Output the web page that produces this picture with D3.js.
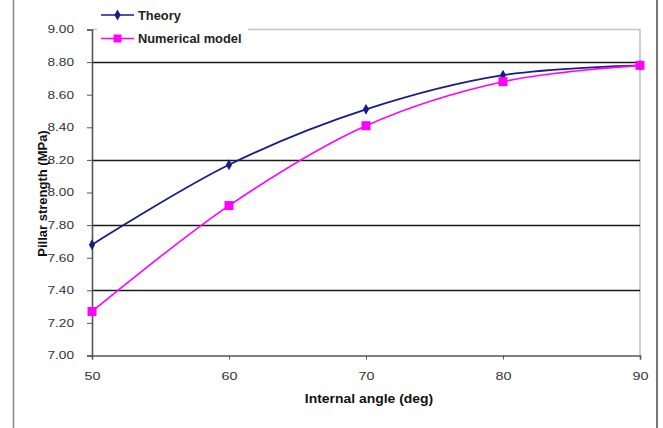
<!DOCTYPE html>
<html>
<head>
<meta charset="utf-8">
<script src="https://cdn.jsdelivr.net/npm/d3@7"></script>
<style>
  html, body { margin: 0; padding: 0; background: #fff; }
  svg { display: block; font-family: "Liberation Sans", Arial, sans-serif; }
</style>
</head>
<body>
<svg id="chart" width="663" height="428"></svg>
<script>
// Pillar strength versus internal angle
const angles = [50, 60, 70, 80, 90];
const theory = [7.68, 8.17, 8.51, 8.72, 8.78];
const numerical = [7.27, 7.92, 8.41, 8.68, 8.78];
const yTicks = [7.0, 7.2, 7.4, 7.6, 7.8, 8.0, 8.2, 8.4, 8.6, 8.8, 9.0];
const gridValues = [7.4, 7.8, 8.2, 8.8];
const seriesNames = ["Theory", "Numerical model"];

const svg = d3.select("#chart");
const W = 663, H = 428;
const plotLeft = 92, plotRight = 640, plotTop = 29.5, plotBottom = 355.5;
const navy = "#1a1a8c", magenta = "#ff00ff";

const x = d3.scaleLinear().domain([50, 90]).range([plotLeft, plotRight]);
const y = d3.scaleLinear().domain([7, 9]).range([plotBottom, plotTop]);

// widen text glyphs horizontally by factor k
function widen(sel, k) {
  sel.each(function () {
    const w = this.getComputedTextLength();
    this.setAttribute("textLength", w * k);
    this.setAttribute("lengthAdjust", "spacingAndGlyphs");
  });
}

// outer frame lines
svg.append("line").attr("x1", 13.5).attr("x2", 13.5).attr("y1", 0).attr("y2", H)
  .attr("stroke", "#888").attr("stroke-width", 1.5);
svg.append("line").attr("x1", 657).attr("x2", 657).attr("y1", 0).attr("y2", H)
  .attr("stroke", "#777").attr("stroke-width", 2);

// plot border (top and right)
svg.append("path")
  .attr("d", `M${plotLeft},${plotTop}H${plotRight}V${plotBottom}`)
  .attr("fill", "none").attr("stroke", "#c4c4c4").attr("stroke-width", 1.6);

// gridlines
svg.append("g").selectAll("line").data(gridValues).join("line")
  .attr("x1", plotLeft).attr("x2", plotRight)
  .attr("y1", d => Math.round(y(d)) + 0.5).attr("y2", d => Math.round(y(d)) + 0.5)
  .attr("stroke", "#1a1a1a").attr("stroke-width", 1.3);

// y axis
const yAxis = d3.axisLeft(y).tickValues(yTicks).tickFormat(d3.format(".2f")).tickSize(5).tickPadding(13);
const gy = svg.append("g").attr("transform", `translate(${plotLeft},0)`).call(yAxis);
gy.select(".domain").attr("stroke", "#555").attr("stroke-width", 1.6);
gy.selectAll(".tick line").attr("stroke", "#555");
gy.selectAll("text").attr("font-size", 10.5).attr("fill", "#333")
  .attr("font-family", "Liberation Sans, Arial, sans-serif").call(widen, 1.3);

// x axis
const xAxis = d3.axisBottom(x).tickValues(angles).tickFormat(d3.format("d")).tickSize(4).tickPadding(13);
const gx = svg.append("g").attr("transform", `translate(0,${plotBottom})`).call(xAxis);
gx.select(".domain").attr("stroke", "#555").attr("stroke-width", 1.6);
gx.selectAll(".tick line").attr("stroke", "#555");
gx.selectAll("text").attr("font-size", 11).attr("fill", "#333")
  .attr("font-family", "Liberation Sans, Arial, sans-serif").call(widen, 1.3);

// axis titles
svg.append("text").attr("x", 369).attr("y", 403).attr("text-anchor", "middle")
  .attr("font-size", 12).attr("font-weight", "bold").attr("fill", "#111")
  .text("Internal angle (deg)").call(widen, 1.16);
svg.append("text").attr("transform", "translate(47,193.5) rotate(-90)").attr("text-anchor", "middle")
  .attr("font-size", 13).attr("font-weight", "bold").attr("fill", "#111")
  .text("Pillar strength (MPa)");

// series lines
const line = d3.line().x((d, i) => x(angles[i])).y(d => y(d)).curve(d3.curveCatmullRom.alpha(0.5));
svg.append("path").datum(theory).attr("d", line)
  .attr("fill", "none").attr("stroke", navy).attr("stroke-width", 1.8);
svg.append("path").datum(numerical).attr("d", line)
  .attr("fill", "none").attr("stroke", magenta).attr("stroke-width", 1.6);

// markers
const diamond = d3.symbol().type(d3.symbolDiamond).size(34);
svg.append("g").selectAll("path").data(theory).join("path")
  .attr("transform", (d, i) => `translate(${x(angles[i])},${y(d)})`)
  .attr("d", diamond).attr("fill", navy);
svg.append("g").selectAll("rect").data(numerical).join("rect")
  .attr("x", (d, i) => x(angles[i]) - 4.5).attr("y", d => y(d) - 4.5)
  .attr("width", 9).attr("height", 9).attr("fill", magenta);

// legend
const legend = svg.append("g");
legend.append("rect").attr("x", 97).attr("y", 4).attr("width", 151).attr("height", 44).attr("fill", "#fff");
const lg = legend.selectAll("g").data(seriesNames).join("g")
  .attr("transform", (d, i) => `translate(101,${15 + i * 23.5})`);
lg.append("line").attr("x1", 0).attr("x2", 33).attr("y1", 0).attr("y2", 0)
  .attr("stroke", (d, i) => i === 0 ? navy : magenta).attr("stroke-width", 1.6);
lg.filter((d, i) => i === 0).append("path").attr("transform", "translate(16.5,0)")
  .attr("d", diamond).attr("fill", navy);
lg.filter((d, i) => i === 1).append("rect").attr("x", 12.5).attr("y", -4).attr("width", 8).attr("height", 8)
  .attr("fill", magenta);
lg.append("text").attr("x", 37).attr("y", 4.5).attr("font-size", 12).attr("font-weight", "bold")
  .attr("fill", "#222").text(d => d).call(widen, 1.07);
</script>
</body>
</html>
